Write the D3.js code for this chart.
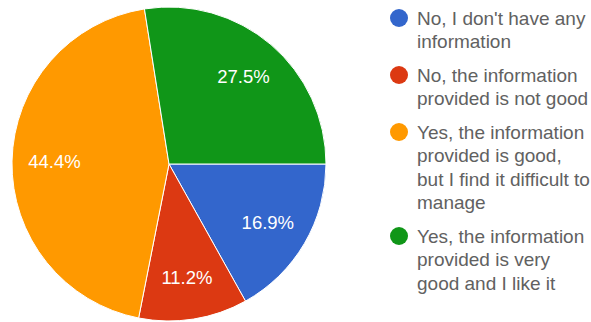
<!DOCTYPE html>
<html>
<head>
<meta charset="utf-8">
<script src="https://cdn.jsdelivr.net/npm/d3@7"></script>
<style>
  body { margin: 0; background: #fff; }
  svg { display: block; font-family: "Liberation Sans", Arial, sans-serif; }
</style>
</head>
<body>
<div id="chart"></div>
<script>
// categories and values, in drawing order (clockwise from 3 o'clock)
const categories = [
  ["No, I don't have any", "information"],
  ["No, the information", "provided is not good"],
  ["Yes, the information", "provided is good,", "but I find it difficult to", "manage"],
  ["Yes, the information", "provided is very", "good and I like it"]
];
const values = [16.9, 11.2, 44.4, 27.5];
const colors = ['#3366cc', '#dc3912', '#ff9900', '#109618'];

const width = 591, height = 322;
const cx = 169, cy = 164, radius = 157;

const svg = d3.select('#chart').append('svg')
  .attr('width', width)
  .attr('height', height);

const pie = d3.pie()
  .sort(null)
  .value(d => d)
  .startAngle(Math.PI / 2)
  .endAngle(Math.PI / 2 + 2 * Math.PI);

const arcs = pie(values);
const arc = d3.arc().innerRadius(0).outerRadius(radius);
const labelArc = d3.arc().innerRadius(radius * 0.73).outerRadius(radius * 0.73);

const g = svg.append('g').attr('transform', `translate(${cx},${cy})`);

g.selectAll('path')
  .data(arcs)
  .enter()
  .append('path')
  .attr('d', arc)
  .attr('fill', (d, i) => colors[i])
  .attr('stroke', '#fff')
  .attr('stroke-width', 1);

g.selectAll('.slice-label')
  .data(arcs)
  .enter()
  .append('text')
  .attr('transform', d => `translate(${labelArc.centroid(d)})`)
  .attr('dy', '0.35em')
  .attr('text-anchor', 'middle')
  .style('fill', '#fff')
  .style('font-size', '18.5px')
  .text(d => d.data.toFixed(1) + '%');

// Legend
const lineH = 23.5, itemGap = 10;
let y = 18;
const legend = svg.append('g').attr('class', 'legend');
categories.forEach((lines, i) => {
  const item = legend.append('g');
  item.append('circle')
    .attr('cx', 399)
    .attr('cy', y)
    .attr('r', 9)
    .attr('fill', colors[i]);
  lines.forEach((t, j) => {
    item.append('text')
      .attr('x', 417)
      .attr('y', y + j * lineH)
      .attr('dy', '0.35em')
      .style('font-size', '19px')
      .style('fill', '#616161')
      .text(t);
  });
  y += lines.length * lineH + itemGap;
});
</script>
</body>
</html>
